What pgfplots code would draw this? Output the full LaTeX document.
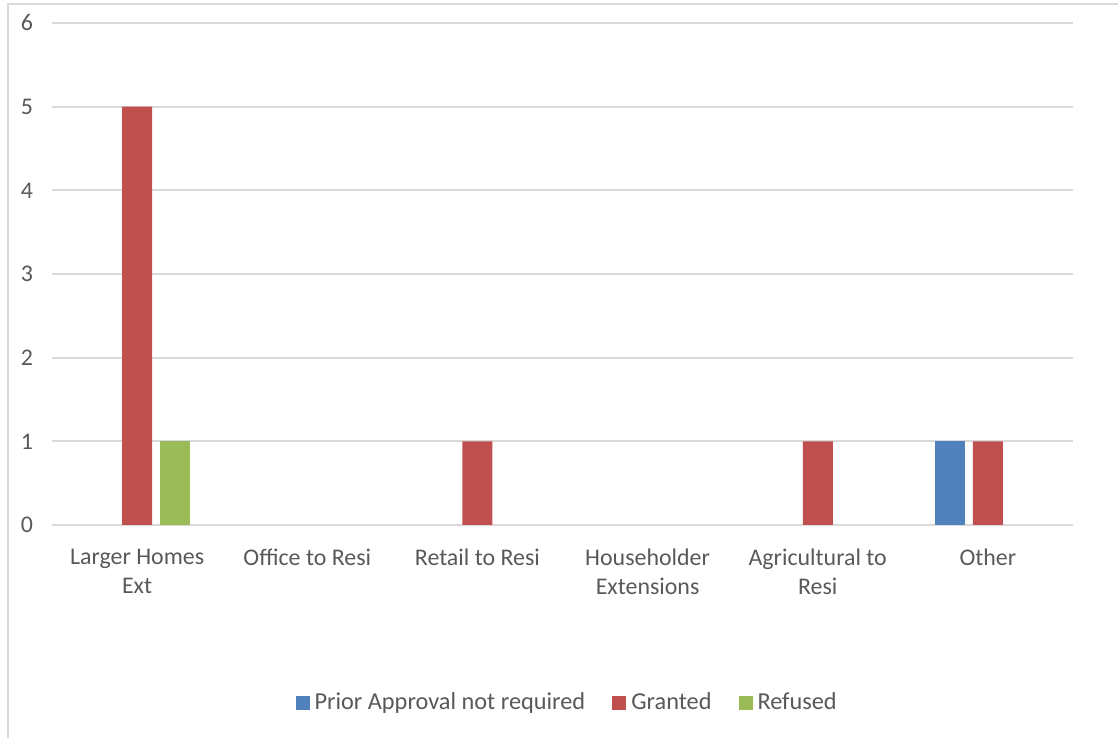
\documentclass[border=0pt]{standalone}
\usepackage{pgfplots}
\pgfplotsset{compat=1.18}
\usepackage{fontspec}
\setmainfont{Carlito}
\definecolor{txt}{HTML}{595959}
\definecolor{gridc}{HTML}{D9D9D9}
\definecolor{cblue}{HTML}{4F81BD}
\definecolor{cred}{HTML}{C0504D}
\definecolor{cgreen}{HTML}{9BBB59}
\begin{document}
\begin{tikzpicture}
\useasboundingbox (0,0) rectangle (559bp,369bp);
\draw[gridc, line width=1bp] (4bp,0) -- (4bp,367bp) -- (559bp,367bp);
\begin{axis}[
  at={(26bp,106.5bp)}, anchor=south west,
  scale only axis, width=510.5bp, height=251bp,
  ybar=4bp, bar width=15bp,
  xmin=-0.5, xmax=5.5, ymin=0, ymax=6,
  xtick={0,1,2,3,4,5},
  xticklabels={{Larger Homes\\Ext},{Office to Resi},{Retail to Resi},{Householder\\Extensions},{Agricultural to\\Resi},{Other}},
  ytick={0,1,2,3,4,5,6},
  axis line style={draw=none},
  major tick length=0pt,
  ymajorgrids, grid style={gridc, line width=1bp},
  tick label style={font=\fontsize{12}{14.5}\selectfont, text=txt},
  xticklabel style={align=center, yshift=-8.5bp},
  yticklabel style={xshift=-6bp},
  /pgf/number format/assume math mode=true,
  legend style={at={(0.506,-0.354)}, anchor=center, draw=none, legend columns=3,
    font=\fontsize{12.2}{14}\selectfont, text=txt,
    nodes={inner xsep=2.5bp},
    /tikz/every even column/.append style={column sep=11bp}},
  legend image code/.code={\fill[#1] (0bp,-3.5bp) rectangle (7bp,3.5bp);},
]
\addplot[fill=cblue, draw=none] coordinates {(5,1)};
\addplot[fill=cred, draw=none] coordinates {(0,5) (2,1) (4,1) (5,1)};
\addplot[fill=cgreen, draw=none] coordinates {(0,1)};
\legend{Prior Approval not required, Granted, Refused}
\end{axis}
\end{tikzpicture}
\end{document}
